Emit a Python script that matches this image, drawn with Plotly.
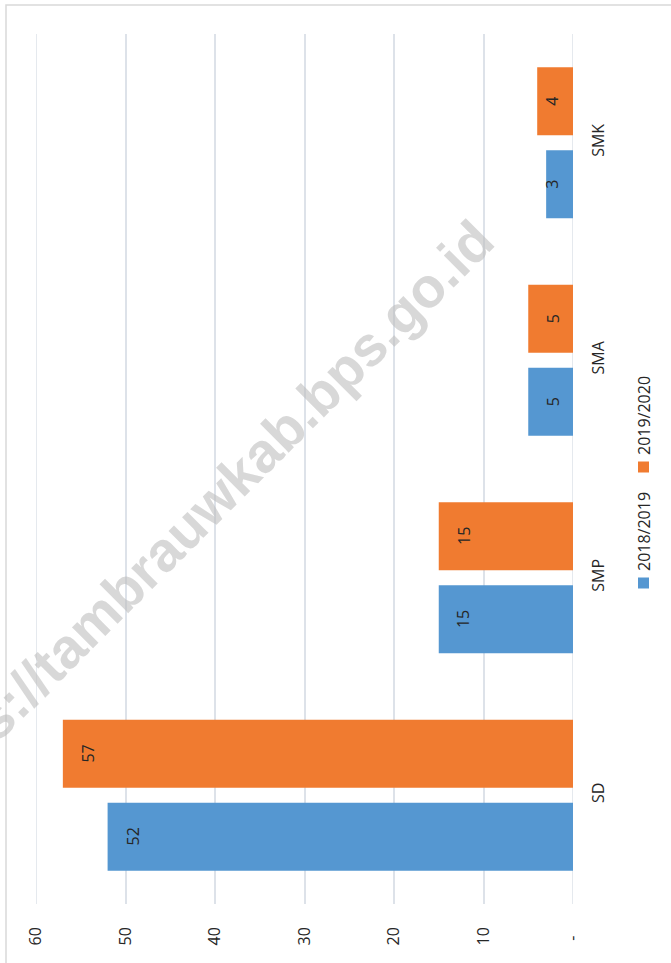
import plotly.graph_objects as go

# ---- data ----
categories = ["SD", "SMP", "SMA", "SMK"]
series_names = ["2018/2019", "2019/2020"]
values_2018_2019 = [52, 15, 5, 3]
values_2019_2020 = [57, 15, 5, 4]
tick_values = [0, 10, 20, 30, 40, 50, 60]
tick_labels = ["-\u00a0\u00a0", "10", "20", "30", "40", "50", "60"]

BLUE = "#5597D1"
ORANGE = "#F07B30"
TEXT = "#262626"
GRID = "#DDE2E9"
FONT = "Open Sans"

# ---- canvas geometry ----
W, H = 671, 963
ML, MR, MT, MB = 36, 98, 34, 59
PW, PH = W - ML - MR, H - MT - MB
X_MAX = 60
PX_PER_UNIT = PW / X_MAX


def paper_x(px):
    return (px - ML) / PW


def paper_y(py):
    return (H - MB - py) / PH


fig = go.Figure()
for name, vals, color in [
    (series_names[0], values_2018_2019, BLUE),
    (series_names[1], values_2019_2020, ORANGE),
]:
    fig.add_trace(
        go.Bar(
            name=name,
            y=categories,
            x=vals,
            orientation="h",
            marker=dict(color=color, line=dict(width=0)),
            showlegend=False,
        )
    )

# value labels, rotated with the chart, placed just inside the bar end
annotations = []
slot_px = PH / len(categories) * (1 - 0.236) / 2
for vals, shift in [(values_2018_2019, -slot_px / 2), (values_2019_2020, slot_px / 2)]:
    for cat, v in zip(categories, vals):
        annotations.append(
            dict(
                x=v, y=cat, xref="x", yref="y",
                xanchor="center", yanchor="middle",
                text=str(v), textangle=-90, showarrow=False,
                xshift=min(25, v * PX_PER_UNIT - 20.5), yshift=shift,
                font=dict(family=FONT, size=16, color=TEXT),
            )
        )

# legend, turned on its side
legend_items = [
    (series_names[0], BLUE, 583, 532),
    (series_names[1], ORANGE, 467, 416),
]
shapes = []
for name, color, sq_cy, txt_cy in legend_items:
    shapes.append(
        dict(
            type="rect", xref="paper", yref="paper",
            x0=paper_x(638), x1=paper_x(649),
            y0=paper_y(sq_cy + 5.5), y1=paper_y(sq_cy - 5.5),
            fillcolor=color, line=dict(width=0),
        )
    )
    annotations.append(
        dict(
            x=paper_x(644), y=paper_y(txt_cy), xref="paper", yref="paper",
            xanchor="center", yanchor="middle",
            text=name, textangle=-90, showarrow=False,
            font=dict(family=FONT, size=16, color=TEXT),
        )
    )

# gridlines at both ends of the value range
for v in (tick_values[0], tick_values[-1]):
    shapes.append(
        dict(
            type="line", xref="x", yref="paper", x0=v, x1=v, y0=0, y1=1,
            line=dict(color=GRID, width=1.5), layer="below",
        )
    )

# chart frame
shapes.append(
    dict(
        type="rect", xref="paper", yref="paper",
        x0=paper_x(6), x1=paper_x(720), y0=paper_y(5), y1=paper_y(1010),
        line=dict(color="#D9D9D9", width=1.5), fillcolor="rgba(0,0,0,0)",
        layer="below",
    )
)

# site watermark
annotations.append(
    dict(
        x=paper_x(196), y=paper_y(517), xref="paper", yref="paper",
        xanchor="center", yanchor="middle",
        text="<b>https://tambrauwkab.bps.go.id</b>", textangle=-45,
        showarrow=False,
        font=dict(family="Liberation Sans", size=56, color="rgba(190,190,190,0.6)"),
    )
)

fig.update_layout(
    width=W, height=H,
    margin=dict(l=ML, r=MR, t=MT, b=MB, pad=0),
    paper_bgcolor="white", plot_bgcolor="white",
    barmode="group", bargap=0.236, bargroupgap=0.18,
    showlegend=False,
    shapes=shapes, annotations=annotations,
    xaxis=dict(
        range=[X_MAX, 0], tickvals=tick_values, ticktext=tick_labels,
        tickangle=-90, showgrid=True, gridcolor=GRID, gridwidth=1.5,
        zeroline=False, showline=False, ticks="",
        ticklabelstandoff=19,
        tickfont=dict(family=FONT, size=16, color=TEXT),
    ),
    yaxis=dict(
        categoryorder="array", categoryarray=categories,
        side="right", tickangle=-90, showgrid=False, zeroline=False,
        showline=False, ticks="", ticklabelstandoff=14,
        tickfont=dict(family=FONT, size=16, color=TEXT),
    ),
)

fig.write_html("out.html")
